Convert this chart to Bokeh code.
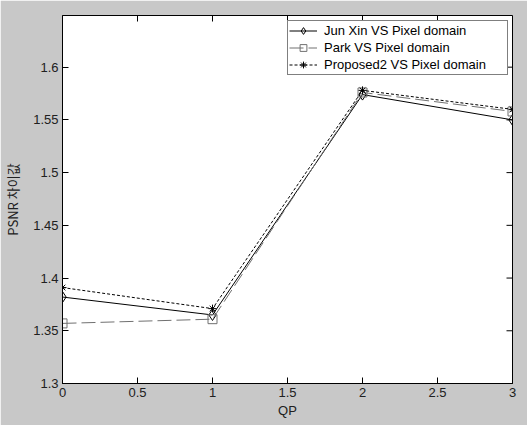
import math
from bokeh.plotting import figure
from bokeh.models import Range1d, FixedTicker, Legend, LegendItem
from bokeh.embed import file_html
from bokeh.resources import INLINE

qp = [0, 1, 2, 3]
jun_xin = [1.382, 1.365, 1.574, 1.550]
park = [1.357, 1.361, 1.576, 1.558]
proposed2 = [1.391, 1.371, 1.578, 1.560]

x_ticks = [0, 0.5, 1, 1.5, 2, 2.5, 3]
y_ticks = [1.3, 1.35, 1.4, 1.45, 1.5, 1.55, 1.6]
series_names = ["Jun Xin VS Pixel domain", "Park VS Pixel domain", "Proposed2 VS Pixel domain"]

X_MIN, X_MAX = 0, 3
Y_MIN, Y_MAX = 1.3, 1.649

BG = "#c8c8c8"
FONT = "Liberation Sans"

p = figure(width=527, height=425, output_backend="svg", toolbar_location=None,
           x_range=Range1d(X_MIN, X_MAX), y_range=Range1d(Y_MIN, Y_MAX),
           min_border_left=61, min_border_right=15, min_border_top=15, min_border_bottom=42,
           background_fill_color="white", border_fill_color=BG)
p.grid.visible = False
p.outline_line_color = "black"
p.outline_line_width = 1

xt = FixedTicker(ticks=x_ticks)
yt = FixedTicker(ticks=y_ticks)

for ax in (p.xaxis[0], p.yaxis[0]):
    ax.major_tick_in = 6
    ax.major_tick_out = 0
    ax.minor_tick_in = 0
    ax.minor_tick_out = 0
    ax.axis_line_color = "black"
    ax.major_tick_line_color = "black"
    ax.major_label_text_font = FONT
    ax.major_label_text_font_size = "13px"
    ax.major_label_text_color = "#202020"
    ax.axis_label_text_font_size = "13px"
    ax.axis_label_text_font_style = "normal"
    ax.axis_label_text_color = "#202020"
p.xaxis[0].ticker = xt
p.yaxis[0].ticker = yt
p.xaxis[0].axis_label = "QP"
p.xaxis[0].axis_label_text_font = FONT
p.xaxis[0].major_label_standoff = 4
p.xaxis[0].axis_label_standoff = 3
p.yaxis[0].axis_label = "PSNR 차이값"
p.yaxis[0].axis_label_text_font = "Noto Sans CJK KR"
p.yaxis[0].major_label_standoff = 4
p.yaxis[0].axis_label_standoff = 8

# mirrored inward ticks on top and right edges (MATLAB box style)
p.ray(x=x_ticks, y=[Y_MAX] * len(x_ticks), length=6, length_units="screen",
      angle=-math.pi / 2, line_color="black", line_width=1)
p.ray(x=[X_MAX] * len(y_ticks), y=y_ticks, length=6, length_units="screen",
      angle=math.pi, line_color="black", line_width=1)

l1 = p.line(qp, jun_xin, line_color="black", line_width=1)
m1 = p.scatter(qp, jun_xin, marker="diamond", size=11, line_color="black", fill_color=None)
l2 = p.line(qp, park, line_color="#707070", line_width=1, line_dash="14 5")
m2 = p.scatter(qp, park, marker="square", size=9, line_color="#707070", fill_color=None)
l3 = p.line(qp, proposed2, line_color="black", line_width=1, line_dash="3 2")
m3 = p.scatter(qp, proposed2, marker="asterisk", size=8, line_color="black")

legend = Legend(items=[
    LegendItem(label=series_names[0], renderers=[l1, m1]),
    LegendItem(label=series_names[1], renderers=[l2, m2]),
    LegendItem(label=series_names[2], renderers=[l3, m3]),
], location=(225, 308))
legend.label_text_font = FONT
legend.label_text_font_size = "13px"
legend.label_text_color = "black"
legend.glyph_width = 28
legend.glyph_height = 17
legend.label_height = 17
legend.label_width = 182
legend.label_standoff = 7
legend.spacing = 0
legend.padding = 1
legend.margin = 0
legend.border_line_color = "black"
legend.border_line_width = 1
legend.background_fill_color = "white"
legend.background_fill_alpha = 1
p.add_layout(legend, "center")

open("out.html", "w").write(file_html(p, INLINE))
